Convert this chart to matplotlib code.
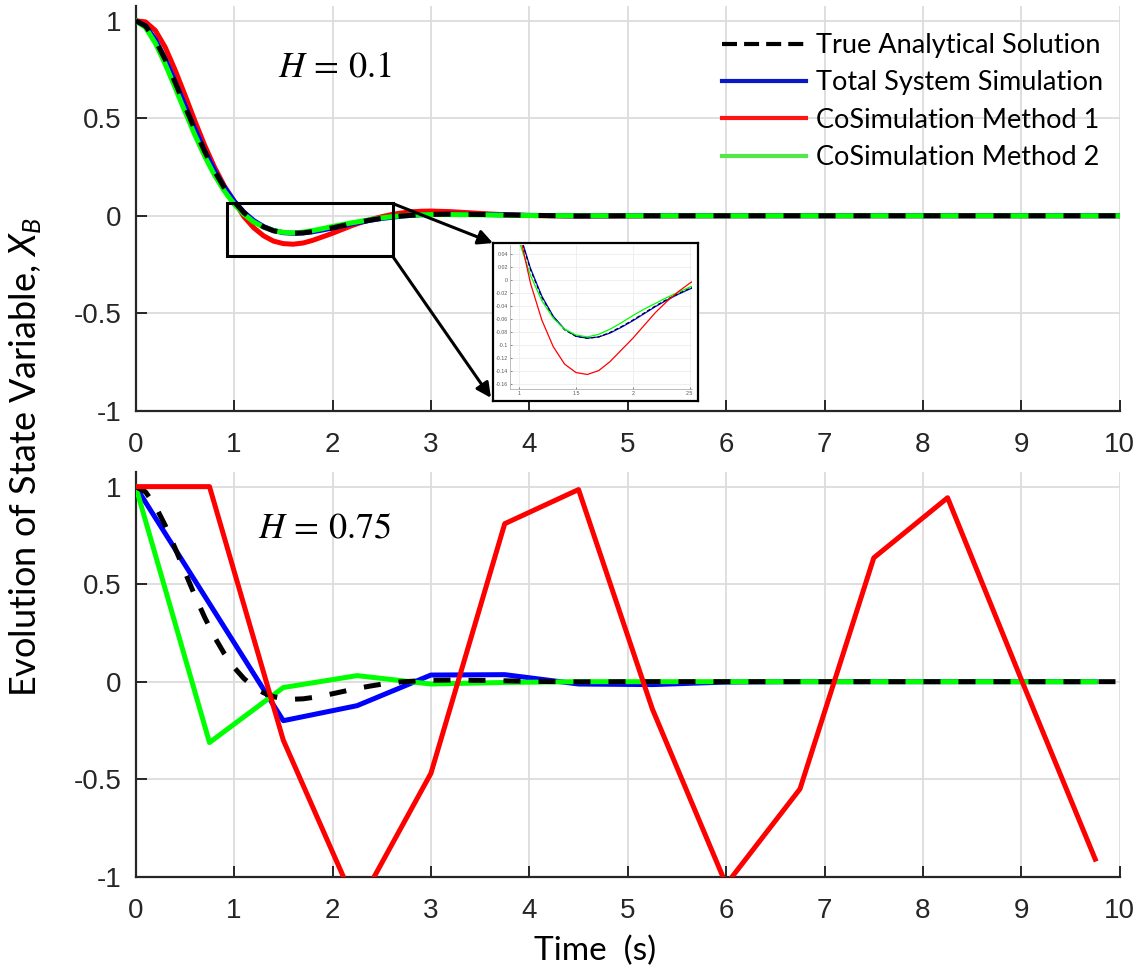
import matplotlib
matplotlib.use("Agg")
import matplotlib.pyplot as plt
from matplotlib.lines import Line2D
from matplotlib.patches import Rectangle
from matplotlib.ticker import FuncFormatter

# ---------------------------------------------------------------
# Data: state variable X_B for two macro step sizes
# ---------------------------------------------------------------
# H = 0.1 (fine output grid, tail settles to zero)
t_fine = [0.0, 0.1, 0.2, 0.3, 0.4, 0.5, 0.6, 0.7, 0.8, 0.9,
          1.0, 1.1, 1.2, 1.3, 1.4, 1.5, 1.6, 1.7, 1.8, 1.9,
          2.0, 2.1, 2.2, 2.3, 2.4, 2.5, 2.6, 2.7, 2.8, 2.9,
          3.0, 3.2, 3.4, 3.6, 3.8, 4.0,
          4.5, 5.0, 6.0, 7.0, 8.0, 9.0, 10.0]

x_true = [1.000, 0.973, 0.901, 0.801, 0.685, 0.563, 0.443, 0.331, 0.230, 0.144,
          0.073, 0.016, -0.027, -0.057, -0.077, -0.087, -0.090, -0.088, -0.081, -0.072,
          -0.062, -0.051, -0.040, -0.030, -0.021, -0.013, -0.007, -0.001, 0.002, 0.005,
          0.007, 0.008, 0.007, 0.006, 0.004, 0.002,
          -0.001, 0.000, 0.000, 0.000, 0.000, 0.000, 0.000]

x_total_01 = [1.000, 0.974, 0.903, 0.803, 0.688, 0.566, 0.446, 0.334, 0.233, 0.147,
              0.075, 0.018, -0.025, -0.056, -0.076, -0.087, -0.090, -0.088, -0.082, -0.073,
              -0.063, -0.052, -0.041, -0.031, -0.022, -0.014, -0.008, -0.002, 0.002, 0.005,
              0.006, 0.008, 0.007, 0.006, 0.004, 0.002,
              -0.001, 0.000, 0.000, 0.000, 0.000, 0.000, 0.000]

x_cosim1_01 = [1.000, 0.994, 0.950, 0.864, 0.748, 0.620, 0.488, 0.362, 0.250, 0.153,
               0.075, -0.005, -0.062, -0.103, -0.130, -0.143, -0.146, -0.140, -0.126, -0.108,
               -0.090, -0.070, -0.050, -0.033, -0.018, -0.005, 0.006, 0.014, 0.020, 0.023,
               0.024, 0.021, 0.015, 0.009, 0.004, 0.001,
               -0.002, -0.001, 0.000, 0.000, 0.000, 0.000, 0.000]

x_cosim2_01 = [1.000, 0.965, 0.885, 0.778, 0.658, 0.535, 0.416, 0.306, 0.209, 0.127,
               0.060, 0.007, -0.032, -0.059, -0.076, -0.085, -0.088, -0.084, -0.076, -0.066,
               -0.055, -0.045, -0.036, -0.027, -0.019, -0.011, -0.005, 0.000, 0.003, 0.005,
               0.006, 0.006, 0.005, 0.004, 0.002, 0.001,
               0.000, 0.000, 0.000, 0.000, 0.000, 0.000, 0.000]

# H = 0.75 (one output per macro step)
t_coarse = [0.0, 0.75, 1.5, 2.25, 3.0, 3.75, 4.5, 5.25, 6.0, 6.75, 7.5, 8.25, 9.0, 9.75]

x_total_075 = [1.0, 0.40, -0.20, -0.123, 0.034, 0.036, -0.012, -0.015, -0.002,
               0.0, 0.0, 0.0, 0.0, 0.0]
x_cosim1_075 = [1.0, 1.0, -0.30, -1.16, -0.47, 0.81, 0.985, -0.14, -1.04,
                -0.55, 0.635, 0.943, 0.01, -0.91]
x_cosim2_075 = [1.0, -0.312, -0.03, 0.031, -0.012, -0.004, 0.0, 0.0, 0.0,
                0.0, 0.0, 0.0, 0.0, 0.0]

LABELS = ["True Analytical Solution", "Total System Simulation",
          "CoSimulation Method 1", "CoSimulation Method 2"]

RED = "#ff0000"
BLUE = "#0000ff"
GREEN = "#00ff00"
DARK = "#262626"

# ---------------------------------------------------------------
# Fonts
# ---------------------------------------------------------------
plt.rcParams["font.family"] = ["Liberation Sans", "DejaVu Sans"]
plt.rcParams["mathtext.rm"] = "Lato"
plt.rcParams["mathtext.it"] = "Lato:italic"

fmt_g = FuncFormatter(lambda v, p: f"{round(v, 3):g}")


def style_axes(ax):
    ax.set_xlim(0, 10)
    ax.set_ylim(-1, 1.075)
    ax.set_xticks(range(11))
    ax.set_yticks([-1, -0.5, 0, 0.5, 1])
    ax.yaxis.set_major_formatter(fmt_g)
    ax.grid(True, color="#dcdcdc", lw=1.3)
    ax.set_axisbelow(True)
    for s in ["top", "right"]:
        ax.spines[s].set_visible(False)
    for s in ["left", "bottom"]:
        ax.spines[s].set_color(DARK)
        ax.spines[s].set_linewidth(1.6)
    ax.tick_params(direction="in", length=8, width=1.4, colors=DARK, labelsize=20)
    ax.tick_params(axis="x", pad=15)
    ax.tick_params(axis="y", pad=10)


def draw_series(ax, t_sim, total, cosim1, cosim2, red_z, lw=3.6):
    ax.plot(t_sim, cosim1, color=RED, lw=lw, zorder=red_z)
    ax.plot(t_sim, total, color=BLUE, lw=lw, zorder=2)
    ax.plot(t_sim, cosim2, color=GREEN, lw=lw, zorder=3)
    ax.plot(t_fine, x_true, color="k", lw=lw, ls=(0, (3.4, 3.6)), zorder=4)


fig = plt.figure(figsize=(11.45, 9.71), dpi=100)
ax_top = fig.add_axes([0.1185, 0.577, 0.8595, 0.4167])
ax_bot = fig.add_axes([0.1185, 0.0971, 0.8595, 0.4168])

for ax in (ax_top, ax_bot):
    style_axes(ax)

draw_series(ax_top, t_fine, x_total_01, x_cosim1_01, x_cosim2_01, red_z=1.5)
draw_series(ax_bot, t_coarse, x_total_075, x_cosim1_075, x_cosim2_075, red_z=5)

ax_top.text(1.445, 0.716, r"$H\,=\,0.1$", fontsize=26, math_fontfamily="stix",
            ha="left", va="baseline")
ax_bot.text(1.245, 0.738, r"$H\,=\,0.75$", fontsize=26, math_fontfamily="stix",
            ha="left", va="baseline")

# zoom box around the undershoot
ax_top.add_patch(Rectangle((0.93, -0.207), 1.68, 0.27, fill=False,
                           ec="k", lw=2.2, zorder=6))

# ---- inset with the magnified undershoot ----
frame_ax = fig.add_axes([0.4306, 0.587, 0.179, 0.1627])
frame_ax.set_xticks([])
frame_ax.set_yticks([])
frame_ax.set_facecolor("white")
for s in frame_ax.spines.values():
    s.set_color("k")
    s.set_linewidth(1.6)

arrow = dict(arrowstyle="-|>", lw=2.2, color="k", mutation_scale=22,
             shrinkA=0, shrinkB=0)
frame_ax.annotate("", xy=(0.0, 1.0), xycoords="axes fraction",
                  xytext=(2.61, 0.063), textcoords=ax_top.transData,
                  arrowprops=arrow, annotation_clip=False)
frame_ax.annotate("", xy=(-0.01, 0.02), xycoords="axes fraction",
                  xytext=(2.61, -0.207), textcoords=ax_top.transData,
                  arrowprops=arrow, annotation_clip=False)

ins = fig.add_axes([0.4454, 0.599, 0.159, 0.1487])
ins.plot(t_fine, x_total_01, color=BLUE, lw=0.9)
ins.plot(t_fine, x_true, color="k", lw=0.9, ls=(0, (3, 2)))
ins.plot(t_fine, x_cosim2_01, color=GREEN, lw=0.9)
ins.plot(t_fine, x_cosim1_01, color=RED, lw=0.9)
ins.set_xlim(0.92, 2.52)
ins.set_ylim(-0.169, 0.054)
ins.set_xticks([1, 1.5, 2, 2.5])
ins.set_yticks([0.04, 0.02, 0, -0.02, -0.04, -0.06, -0.08, -0.1, -0.12, -0.14, -0.16])
ins.xaxis.set_major_formatter(fmt_g)
ins.yaxis.set_major_formatter(fmt_g)
ins.grid(True, color="#ececec", lw=0.6)
ins.set_axisbelow(True)
for s in ["top", "right"]:
    ins.spines[s].set_visible(False)
for s in ["left", "bottom"]:
    ins.spines[s].set_color("#b0b0b0")
    ins.spines[s].set_linewidth(0.6)
ins.tick_params(direction="in", length=1.5, width=0.5, colors="#555555",
                labelsize=3.8, pad=1.5)

# ---- legend ----
handles = [
    Line2D([], [], color="k", lw=3, ls=(0, (3.6, 1.7))),
    Line2D([], [], color="#0a18c4", lw=3),
    Line2D([], [], color="#ff1414", lw=3),
    Line2D([], [], color="#55e64a", lw=3),
]
fig.legend(handles, LABELS, loc="upper left", bbox_to_anchor=(0.631, 0.966),
           frameon=False, prop={"family": "Lato", "size": 19.5},
           handlelength=3.1, handletextpad=0.36, labelspacing=0.46,
           borderpad=0, borderaxespad=0)

# ---- axis titles ----
fig.text(26 / 1145, 1 - 697 / 971, r"Evolution of State Variable, $X_B$",
         rotation=90, rotation_mode="anchor", family="Lato", size=26,
         math_fontfamily="custom", ha="left", va="center")
fig.text(0.5196, 0.0113, "Time  (s)", family="Lato", size=24,
         ha="center", va="baseline")

fig.savefig("out.png", dpi=100)
